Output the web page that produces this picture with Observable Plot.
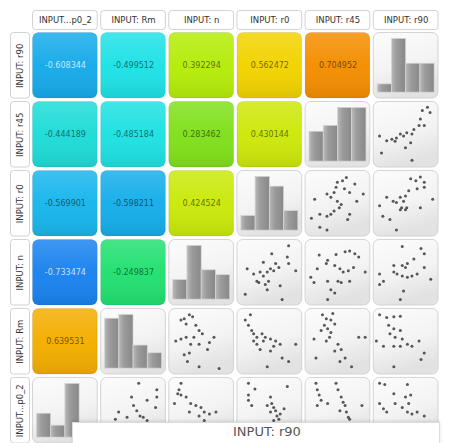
<!DOCTYPE html>
<html><head><meta charset="utf-8">
<script src="https://cdn.jsdelivr.net/npm/d3@7"></script>
<script src="https://cdn.jsdelivr.net/npm/@observablehq/plot@0.6"></script>
<style>
html,body{margin:0;padding:0;background:#fff;}
#wrap{position:relative;width:457px;height:443px;overflow:hidden;font-family:"DejaVu Sans",sans-serif;}
#tip{position:absolute;left:72px;top:422px;width:368px;height:24px;background:#fff;border:1px solid #dcdcdc;box-shadow:0 -1px 3px rgba(0,0,0,0.12);font-size:13px;line-height:17px;color:#555;box-sizing:border-box;padding-left:160px;white-space:nowrap;}
</style></head>
<body><div id="wrap"><div id="chart"></div><div id="tip">INPUT: r90</div></div>
<script>
// ---- data ----
const cols = ["p0_2", "Rm", "n", "r0", "r45", "r90"];
const rows = ["r90", "r45", "r0", "n", "Rm", "p0_2"];
const colLabels = ["INPUT...p0_2", "INPUT: Rm", "INPUT: n", "INPUT: r0", "INPUT: r45", "INPUT: r90"];
const rowLabels = ["INPUT: r90", "INPUT: r45", "INPUT: r0", "INPUT: n", "INPUT: Rm", "INPUT...p0_2"];

const corrRow = ["r90","r90","r90","r90","r90","r45","r45","r45","r45","r0","r0","r0","n","n","Rm"];
const corrCol = ["p0_2","Rm","n","r0","r45","p0_2","Rm","n","r0","p0_2","Rm","n","p0_2","Rm","p0_2"];
const corrValue = [-0.608344,-0.499512,0.392294,0.562472,0.704952,-0.444189,-0.485184,0.283462,0.430144,-0.569901,-0.598211,0.424524,-0.733474,-0.249837,0.639531];

const colorStops = [-0.75, -0.6, -0.56, -0.5, -0.44, -0.25, 0.28, 0.39, 0.43, 0.56, 0.64, 0.71];
const colorRange = ["#1a7ef0", "#16aeea", "#19b9ec", "#1ee2e6", "#1edcd6", "#22e070", "#7ee01c", "#b4ec0a", "#cde80a", "#f2d400", "#f4ae00", "#f48c00"];

// histogram bin counts (4 bins per variable)
const histVars = ["p0_2", "Rm", "n", "r0", "r45", "r90"];
const histP0_2 = [4, 2, 9, 0];
const histRm = [13, 14, 6, 4];
const histN = [4, 11, 6, 5];
const histR0 = [3, 11, 9, 4];
const histR45 = [5, 6, 9, 9];
const histR90 = [2, 13, 7, 7];
const binEdges = [6, 28, 50, 72, 94];

// scatter points, normalised 0-100 (x = column variable, y = row variable)
const s_r45_r90 = [[75,87],[87,84],[72,74],[78,64],[70,64],[62,58],[51,53],[59,51],[46,48],[41,51],[35,45],[28,43],[20,41],[33,40],[9,48],[57,38],[49,30],[12,22],[59,11],[83,92]];
const s_r0_r45 = [[49,83],[57,85],[63,90],[47,75],[60,73],[76,80],[68,67],[44,67],[33,65],[39,60],[14,57],[49,54],[52,44],[44,39],[39,34],[33,31],[22,34],[9,28],[65,26],[22,14],[33,10],[79,54],[89,65],[55,49],[68,34]];
const s_r0_r90 = [[57,88],[72,91],[78,83],[67,73],[54,70],[49,62],[41,60],[46,54],[35,52],[30,54],[43,44],[49,41],[41,41],[51,44],[72,44],[91,57],[9,47],[14,31],[25,26],[35,10],[20,60],[65,85],[78,75]];
const s_n_r0 = [[79,91],[53,79],[77,74],[40,66],[59,64],[51,56],[46,51],[56,53],[64,58],[35,51],[15,56],[25,48],[40,45],[33,35],[30,37],[48,37],[43,32],[66,30],[12,17],[90,53],[79,64],[69,9],[46,24]];
const s_n_r45 = [[21,77],[34,69],[47,78],[61,82],[68,83],[76,79],[82,74],[32,64],[45,61],[53,56],[58,51],[66,53],[74,58],[8,43],[13,35],[34,37],[50,37],[55,35],[68,37],[39,24],[45,19],[34,9],[92,51],[18,56]];
const s_n_r90 = [[44,90],[73,87],[78,79],[62,71],[52,64],[31,61],[44,61],[49,58],[31,51],[36,48],[44,45],[52,43],[59,45],[67,48],[9,48],[15,37],[88,40],[46,22],[41,9],[9,32],[78,58]];
const s_Rm_n = [[18,83],[23,85],[31,91],[26,77],[36,88],[41,75],[46,67],[51,62],[38,57],[26,57],[18,54],[33,46],[46,46],[62,49],[69,57],[10,51],[31,33],[23,30],[28,20],[46,12],[77,9],[59,38]];
const s_Rm_r0 = [[20,91],[12,83],[17,75],[25,62],[30,57],[38,62],[43,57],[51,54],[59,51],[66,46],[40,51],[30,46],[35,38],[51,36],[69,25],[79,20],[90,46],[46,12],[25,51],[22,67],[56,43]];
const s_Rm_r45 = [[26,91],[32,85],[39,83],[45,77],[29,75],[34,70],[39,64],[37,57],[50,46],[55,38],[45,36],[61,25],[71,12],[82,57],[92,57],[13,54],[16,25],[24,67],[42,93],[53,20],[32,51]];
const s_Rm_r90 = [[9,91],[20,87],[31,88],[41,89],[23,75],[31,70],[41,67],[25,62],[33,57],[44,54],[52,46],[59,43],[70,51],[78,33],[73,23],[15,43],[31,43],[41,43],[31,12],[4,51]];
const s_p02_Rm = [[58,92],[86,82],[86,71],[71,66],[50,58],[55,50],[60,42],[65,40],[71,35],[40,40],[27,48],[22,37],[84,55],[47,71]];
const s_p02_n = [[18,92],[15,82],[13,76],[18,74],[26,71],[33,61],[41,58],[49,55],[54,48],[62,45],[46,42],[54,35],[31,48],[72,48],[8,61]];
const s_p02_r0 = [[17,92],[27,83],[17,74],[17,66],[22,58],[51,71],[53,61],[56,55],[59,50],[51,48],[61,42],[66,45],[46,58],[72,53],[77,87],[64,37],[56,35]];
const s_p02_r45 = [[16,92],[18,82],[21,74],[24,66],[18,58],[34,61],[50,82],[55,71],[58,63],[61,58],[63,48],[66,40],[53,50],[87,58],[47,92],[68,37]];
const s_p02_r90 = [[9,92],[17,90],[52,90],[31,76],[49,71],[57,74],[9,61],[15,53],[33,61],[44,55],[52,48],[59,45],[67,48],[78,42],[20,48],[54,61]];

const scatterPanels = [
  {row: "r45", col: "r90", pts: s_r45_r90},
  {row: "r0", col: "r45", pts: s_r0_r45},
  {row: "r0", col: "r90", pts: s_r0_r90},
  {row: "n", col: "r0", pts: s_n_r0},
  {row: "n", col: "r45", pts: s_n_r45},
  {row: "n", col: "r90", pts: s_n_r90},
  {row: "Rm", col: "n", pts: s_Rm_n},
  {row: "Rm", col: "r0", pts: s_Rm_r0},
  {row: "Rm", col: "r45", pts: s_Rm_r45},
  {row: "Rm", col: "r90", pts: s_Rm_r90},
  {row: "p0_2", col: "Rm", pts: s_p02_Rm},
  {row: "p0_2", col: "n", pts: s_p02_n},
  {row: "p0_2", col: "r0", pts: s_p02_r0},
  {row: "p0_2", col: "r45", pts: s_p02_r45},
  {row: "p0_2", col: "r90", pts: s_p02_r90}
];

// ---- build tables ----
const corrData = corrValue.map((v, i) => ({row: corrRow[i], col: corrCol[i], v}));
const histList = [histP0_2, histRm, histN, histR0, histR45, histR90];
const histData = [];
histVars.forEach((name, i) => {
  const counts = histList[i], max = d3.max(counts);
  counts.forEach((c, b) => histData.push({row: name, col: name, x1: binEdges[b], x2: binEdges[b + 1], h: c / max}));
});
const scatterData = [];
scatterPanels.forEach(p => p.pts.forEach(([x, y]) => scatterData.push({row: p.row, col: p.col, x, y})));
const panelData = [...histVars.map(v => ({row: v, col: v})), ...scatterPanels.map(p => ({row: p.row, col: p.col}))];
const headerData = cols.map((c, i) => ({col: c, row: rows[0], label: colLabels[i]}));
const sideData = rows.map((r, i) => ({row: r, col: cols[0], label: rowLabels[i]}));

const F = {fx: "col", fy: "row"};
const chart = Plot.plot({
  width: 457, height: 443,
  marginLeft: 32.5, marginRight: 19, marginTop: 32.5, marginBottom: 0,
  style: {fontFamily: "DejaVu Sans, sans-serif", background: "white"},
  fx: {domain: cols, paddingInner: 0.05, paddingOuter: 0, round: false, axis: null},
  fy: {domain: rows, paddingInner: 0.05, paddingOuter: 0, round: false, axis: null},
  x: {domain: [0, 100], axis: null},
  y: {domain: [0, 100], axis: null},
  color: {type: "linear", domain: colorStops, range: colorRange},
  marks: [
    // correlation tiles
    Plot.rect(corrData, {...F, x1: 0, x2: 100, y1: 0, y2: 100, fill: "v", rx: 6, stroke: "#000", strokeOpacity: 0.1, strokeWidth: 0.8}),
    Plot.rect(corrData, {...F, x1: 0, x2: 100, y1: 0, y2: 100, fill: "url(#tileShade)", rx: 6}),
    Plot.text(corrData.filter(d => d.v >= -0.6), {...F, x: 50, y: 50, text: d => d.v.toFixed(6), fill: "black", fillOpacity: 0.55, fontSize: 8}),
    Plot.text(corrData.filter(d => d.v < -0.6), {...F, x: 50, y: 50, text: d => d.v.toFixed(6), fill: "white", fillOpacity: 0.75, fontSize: 8}),
    // histogram / scatter panels
    Plot.rect(panelData, {...F, x1: 0, x2: 100, y1: 0, y2: 100, fill: "url(#panelShade)", rx: 6, stroke: "#cfcfcf", strokeWidth: 0.9}),
    Plot.rect(histData, {...F, x1: "x1", x2: "x2", y1: 9, y2: d => 9 + 82 * d.h, fill: "url(#barShade)", stroke: "#d6d6d6", strokeWidth: 0.7}),
    Plot.dot(scatterData, {...F, x: "x", y: "y", r: 1.5, fill: "#303030", fillOpacity: 0.8}),
    // column headers
    Plot.rect(headerData, {...F, x1: 0, x2: 100, y1: 104.6, y2: 133.6, fill: "white", stroke: "#d2d2d2", rx: 3}),
    Plot.text(headerData, {...F, x: 50, y: 119, text: "label", fill: "#333", fontSize: 8.5}),
    // row headers
    Plot.rect(sideData, {...F, x1: -34, x2: -4.6, y1: 0, y2: 100, fill: "white", stroke: "#d2d2d2", rx: 3}),
    Plot.text(sideData, {...F, x: -19.3, y: 50, text: "label", rotate: -90, fill: "#333", fontSize: 8.5})
  ]
});

const defs = d3.select(chart).insert("defs", ":first-child");
const g1 = defs.append("linearGradient").attr("id", "tileShade").attr("x1", 0).attr("y1", 0).attr("x2", 0).attr("y2", 1);
g1.append("stop").attr("offset", 0).attr("stop-color", "#fff").attr("stop-opacity", 0.16);
g1.append("stop").attr("offset", 0.5).attr("stop-color", "#fff").attr("stop-opacity", 0.02);
g1.append("stop").attr("offset", 1).attr("stop-color", "#000").attr("stop-opacity", 0.08);
const g2 = defs.append("linearGradient").attr("id", "panelShade").attr("x1", 0).attr("y1", 0).attr("x2", 0.3).attr("y2", 1);
g2.append("stop").attr("offset", 0).attr("stop-color", "#fcfcfc");
g2.append("stop").attr("offset", 0.6).attr("stop-color", "#f3f3f3");
g2.append("stop").attr("offset", 1).attr("stop-color", "#e2e2e2");
const g3 = defs.append("linearGradient").attr("id", "barShade").attr("x1", 0).attr("y1", 0).attr("x2", 1).attr("y2", 0);
g3.append("stop").attr("offset", 0).attr("stop-color", "#b9b9b9");
g3.append("stop").attr("offset", 0.35).attr("stop-color", "#9c9c9c");
g3.append("stop").attr("offset", 1).attr("stop-color", "#888888");

document.getElementById("chart").appendChild(chart);
</script>
</body></html>
